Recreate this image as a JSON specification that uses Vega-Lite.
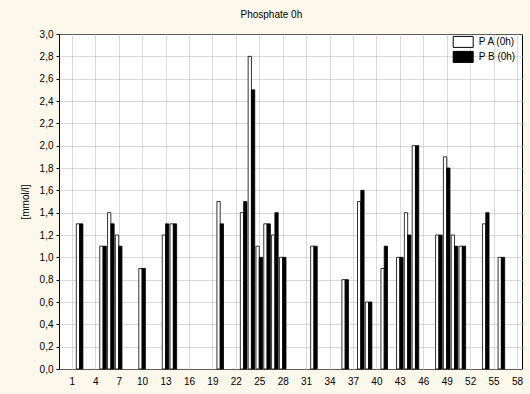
{
  "$schema": "https://vega.github.io/schema/vega-lite/v6.json",
  "autosize": {"type": "none"},
  "width": 463,
  "height": 335,
  "padding": {"left": 59, "top": 34, "right": 8, "bottom": 25},
  "background": "#fdf8ec",
  "title": {"text": "Phosphate 0h", "fontSize": 10, "font": "Liberation Sans", "fontWeight": "normal", "frame": "bounds", "anchor": "middle", "offset": 9, "color": "black"},
  "config": {
    "view": {"fill": "white", "stroke": "black", "strokeWidth": 1},
    "axis": {"labelFont": "Liberation Sans", "labelFontSize": 10, "labelColor": "black", "titleFont": "Liberation Sans", "titleFontSize": 10, "titleFontWeight": "normal", "titleColor": "black", "gridColor": "#b4b4b4", "gridDash": [1, 1], "gridWidth": 1, "domainColor": "black", "tickColor": "black"}
  },
  "data": {"values": [
    {"id": 2, "series": "P A (0h)", "value": 1.3}, {"id": 2, "series": "P B (0h)", "value": 1.3},
    {"id": 5, "series": "P A (0h)", "value": 1.1}, {"id": 5, "series": "P B (0h)", "value": 1.1},
    {"id": 6, "series": "P A (0h)", "value": 1.4}, {"id": 6, "series": "P B (0h)", "value": 1.3},
    {"id": 7, "series": "P A (0h)", "value": 1.2}, {"id": 7, "series": "P B (0h)", "value": 1.1},
    {"id": 10, "series": "P A (0h)", "value": 0.9}, {"id": 10, "series": "P B (0h)", "value": 0.9},
    {"id": 13, "series": "P A (0h)", "value": 1.2}, {"id": 13, "series": "P B (0h)", "value": 1.3},
    {"id": 14, "series": "P A (0h)", "value": 1.3}, {"id": 14, "series": "P B (0h)", "value": 1.3},
    {"id": 20, "series": "P A (0h)", "value": 1.5}, {"id": 20, "series": "P B (0h)", "value": 1.3},
    {"id": 23, "series": "P A (0h)", "value": 1.4}, {"id": 23, "series": "P B (0h)", "value": 1.5},
    {"id": 24, "series": "P A (0h)", "value": 2.8}, {"id": 24, "series": "P B (0h)", "value": 2.5},
    {"id": 25, "series": "P A (0h)", "value": 1.1}, {"id": 25, "series": "P B (0h)", "value": 1.0},
    {"id": 26, "series": "P A (0h)", "value": 1.3}, {"id": 26, "series": "P B (0h)", "value": 1.3},
    {"id": 27, "series": "P A (0h)", "value": 1.2}, {"id": 27, "series": "P B (0h)", "value": 1.4},
    {"id": 28, "series": "P A (0h)", "value": 1.0}, {"id": 28, "series": "P B (0h)", "value": 1.0},
    {"id": 32, "series": "P A (0h)", "value": 1.1}, {"id": 32, "series": "P B (0h)", "value": 1.1},
    {"id": 36, "series": "P A (0h)", "value": 0.8}, {"id": 36, "series": "P B (0h)", "value": 0.8},
    {"id": 38, "series": "P A (0h)", "value": 1.5}, {"id": 38, "series": "P B (0h)", "value": 1.6},
    {"id": 39, "series": "P A (0h)", "value": 0.6}, {"id": 39, "series": "P B (0h)", "value": 0.6},
    {"id": 41, "series": "P A (0h)", "value": 0.9}, {"id": 41, "series": "P B (0h)", "value": 1.1},
    {"id": 43, "series": "P A (0h)", "value": 1.0}, {"id": 43, "series": "P B (0h)", "value": 1.0},
    {"id": 44, "series": "P A (0h)", "value": 1.4}, {"id": 44, "series": "P B (0h)", "value": 1.2},
    {"id": 45, "series": "P A (0h)", "value": 2.0}, {"id": 45, "series": "P B (0h)", "value": 2.0},
    {"id": 48, "series": "P A (0h)", "value": 1.2}, {"id": 48, "series": "P B (0h)", "value": 1.2},
    {"id": 49, "series": "P A (0h)", "value": 1.9}, {"id": 49, "series": "P B (0h)", "value": 1.8},
    {"id": 50, "series": "P A (0h)", "value": 1.2}, {"id": 50, "series": "P B (0h)", "value": 1.1},
    {"id": 51, "series": "P A (0h)", "value": 1.1}, {"id": 51, "series": "P B (0h)", "value": 1.1},
    {"id": 54, "series": "P A (0h)", "value": 1.3}, {"id": 54, "series": "P B (0h)", "value": 1.4},
    {"id": 56, "series": "P A (0h)", "value": 1.0}, {"id": 56, "series": "P B (0h)", "value": 1.0}
  ]},
  "encoding": {
    "x": {"field": "id", "type": "quantitative", "scale": {"domain": [0, 58], "nice": false, "zero": false},
      "axis": {"values": [1, 4, 7, 10, 13, 16, 19, 22, 25, 28, 31, 34, 37, 40, 43, 46, 49, 52, 55, 58], "title": null, "grid": true, "tickSize": 0, "labelPadding": 7, "domain": false, "labelFlush": false}},
    "y": {"field": "value", "type": "quantitative", "scale": {"domain": [0, 3], "nice": false},
      "axis": {"values": [0, 0.2, 0.4, 0.6, 0.8, 1.0, 1.2, 1.4, 1.6, 1.8, 2.0, 2.2, 2.4, 2.6, 2.8, 3.0], "labelExpr": "replace(format(datum.value, '.1f'), '.', ',')", "title": "[mmol/l]", "tickSize": 3, "labelPadding": 3, "titlePadding": 9, "grid": true, "domain": false}},
    "color": {"field": "series", "type": "nominal", "scale": {"domain": ["P A (0h)", "P B (0h)"], "range": ["white", "black"]},
      "legend": {"title": null, "orient": "none", "legendX": 398.7, "legendY": 2.4, "symbolType": "M-2,-1.1H2V1.1H-2Z", "symbolSize": 100, "symbolStrokeColor": "black", "symbolStrokeWidth": 1, "symbolOpacity": 1, "labelFont": "Liberation Sans", "labelFontSize": 10, "labelColor": "black", "labelOffset": 10, "rowPadding": 0, "padding": 0}}
  },
  "layer": [
    {"transform": [{"filter": "datum.series === 'P A (0h)'"}],
     "mark": {"type": "bar", "orient": "vertical", "width": 3.3, "xOffset": -1.65, "stroke": "black", "strokeWidth": 0.8, "opacity": 1}},
    {"transform": [{"filter": "datum.series === 'P B (0h)'"}],
     "mark": {"type": "bar", "orient": "vertical", "width": 3.3, "xOffset": 1.65, "stroke": "black", "strokeWidth": 0.8, "opacity": 1}}
  ]
}
